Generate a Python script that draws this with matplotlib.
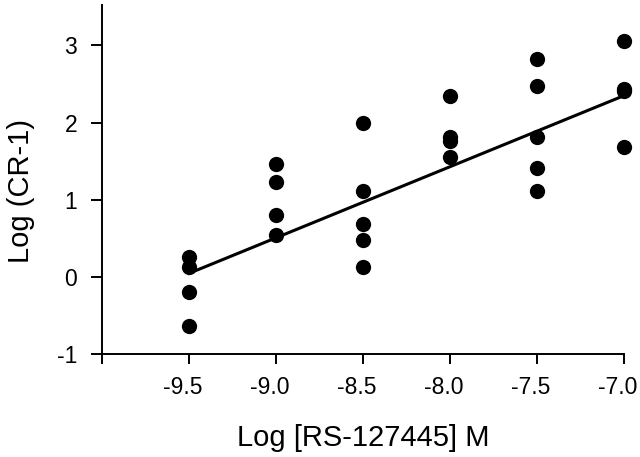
import matplotlib
matplotlib.use("Agg")
import matplotlib.pyplot as plt
import matplotlib.transforms as mtransforms
import numpy as np

plt.rcParams['font.family'] = ['Liberation Sans', 'DejaVu Sans']

# Data
doses = [-9.5, -9.0, -8.5, -8.0, -7.5, -7.0]
responses = [
    [0.26, 0.13, -0.19, -0.63],
    [1.47, 1.23, 0.80, 0.55],
    [1.99, 1.12, 0.69, 0.48, 0.13],
    [2.34, 1.82, 1.76, 1.56],
    [2.83, 2.48, 1.82, 1.41, 1.12],
    [3.06, 2.44, 2.41, 1.69],
]
fit_x = [-9.5, -7.0]
fit_y = [0.05, 2.35]

x_ticks = [-10.0, -9.5, -9.0, -8.5, -8.0, -7.5, -7.0]
x_tick_labels = ['', '-9.5', '-9.0', '-8.5', '-8.0', '-7.5', '-7.0']
y_ticks = [-1, 0, 1, 2, 3]
y_tick_labels = ['-1', '0', '1', '2', '3']

fig = plt.figure(figsize=(6.4, 4.57), dpi=100)
ax = fig.add_axes([0.1594, 0.2243, 0.975 - 0.1594, 0.9886 - 0.2243])

xs = np.concatenate([[d] * len(r) for d, r in zip(doses, responses)])
ys = np.concatenate(responses)
ax.plot(xs, ys, 'o', color='black', markersize=11, markeredgewidth=0, zorder=3, clip_on=False)
ax.plot(fit_x, fit_y, '-', color='black', linewidth=2.2, zorder=2)

ax.set_xlim(-10.0, -7.0)
ax.set_ylim(-1.0, 3.52)

for s in ['top', 'right']:
    ax.spines[s].set_visible(False)
for s in ['left', 'bottom']:
    ax.spines[s].set_linewidth(1.4)

ax.set_xticks(x_ticks)
ax.set_xticklabels(x_tick_labels, fontsize=16.5)
ax.set_yticks(y_ticks)
ax.set_yticklabels(y_tick_labels, fontsize=16.5)
ax.tick_params(axis='x', direction='out', length=7.5, width=1.4, pad=8)
ax.tick_params(axis='y', direction='out', length=8, width=1.4, pad=10)

offset = mtransforms.ScaledTranslation(-6 / 100, 0, fig.dpi_scale_trans)
for lbl in ax.get_xticklabels():
    lbl.set_transform(lbl.get_transform() + offset)

ax.set_xlabel('Log [RS-127445] M', fontsize=21)
ax.set_ylabel('Log (CR-1)', fontsize=21)
ax.xaxis.set_label_coords(0.5, -0.20)
ax.yaxis.set_label_coords(-0.128, 0.467)

fig.savefig('out.png', dpi=100)
